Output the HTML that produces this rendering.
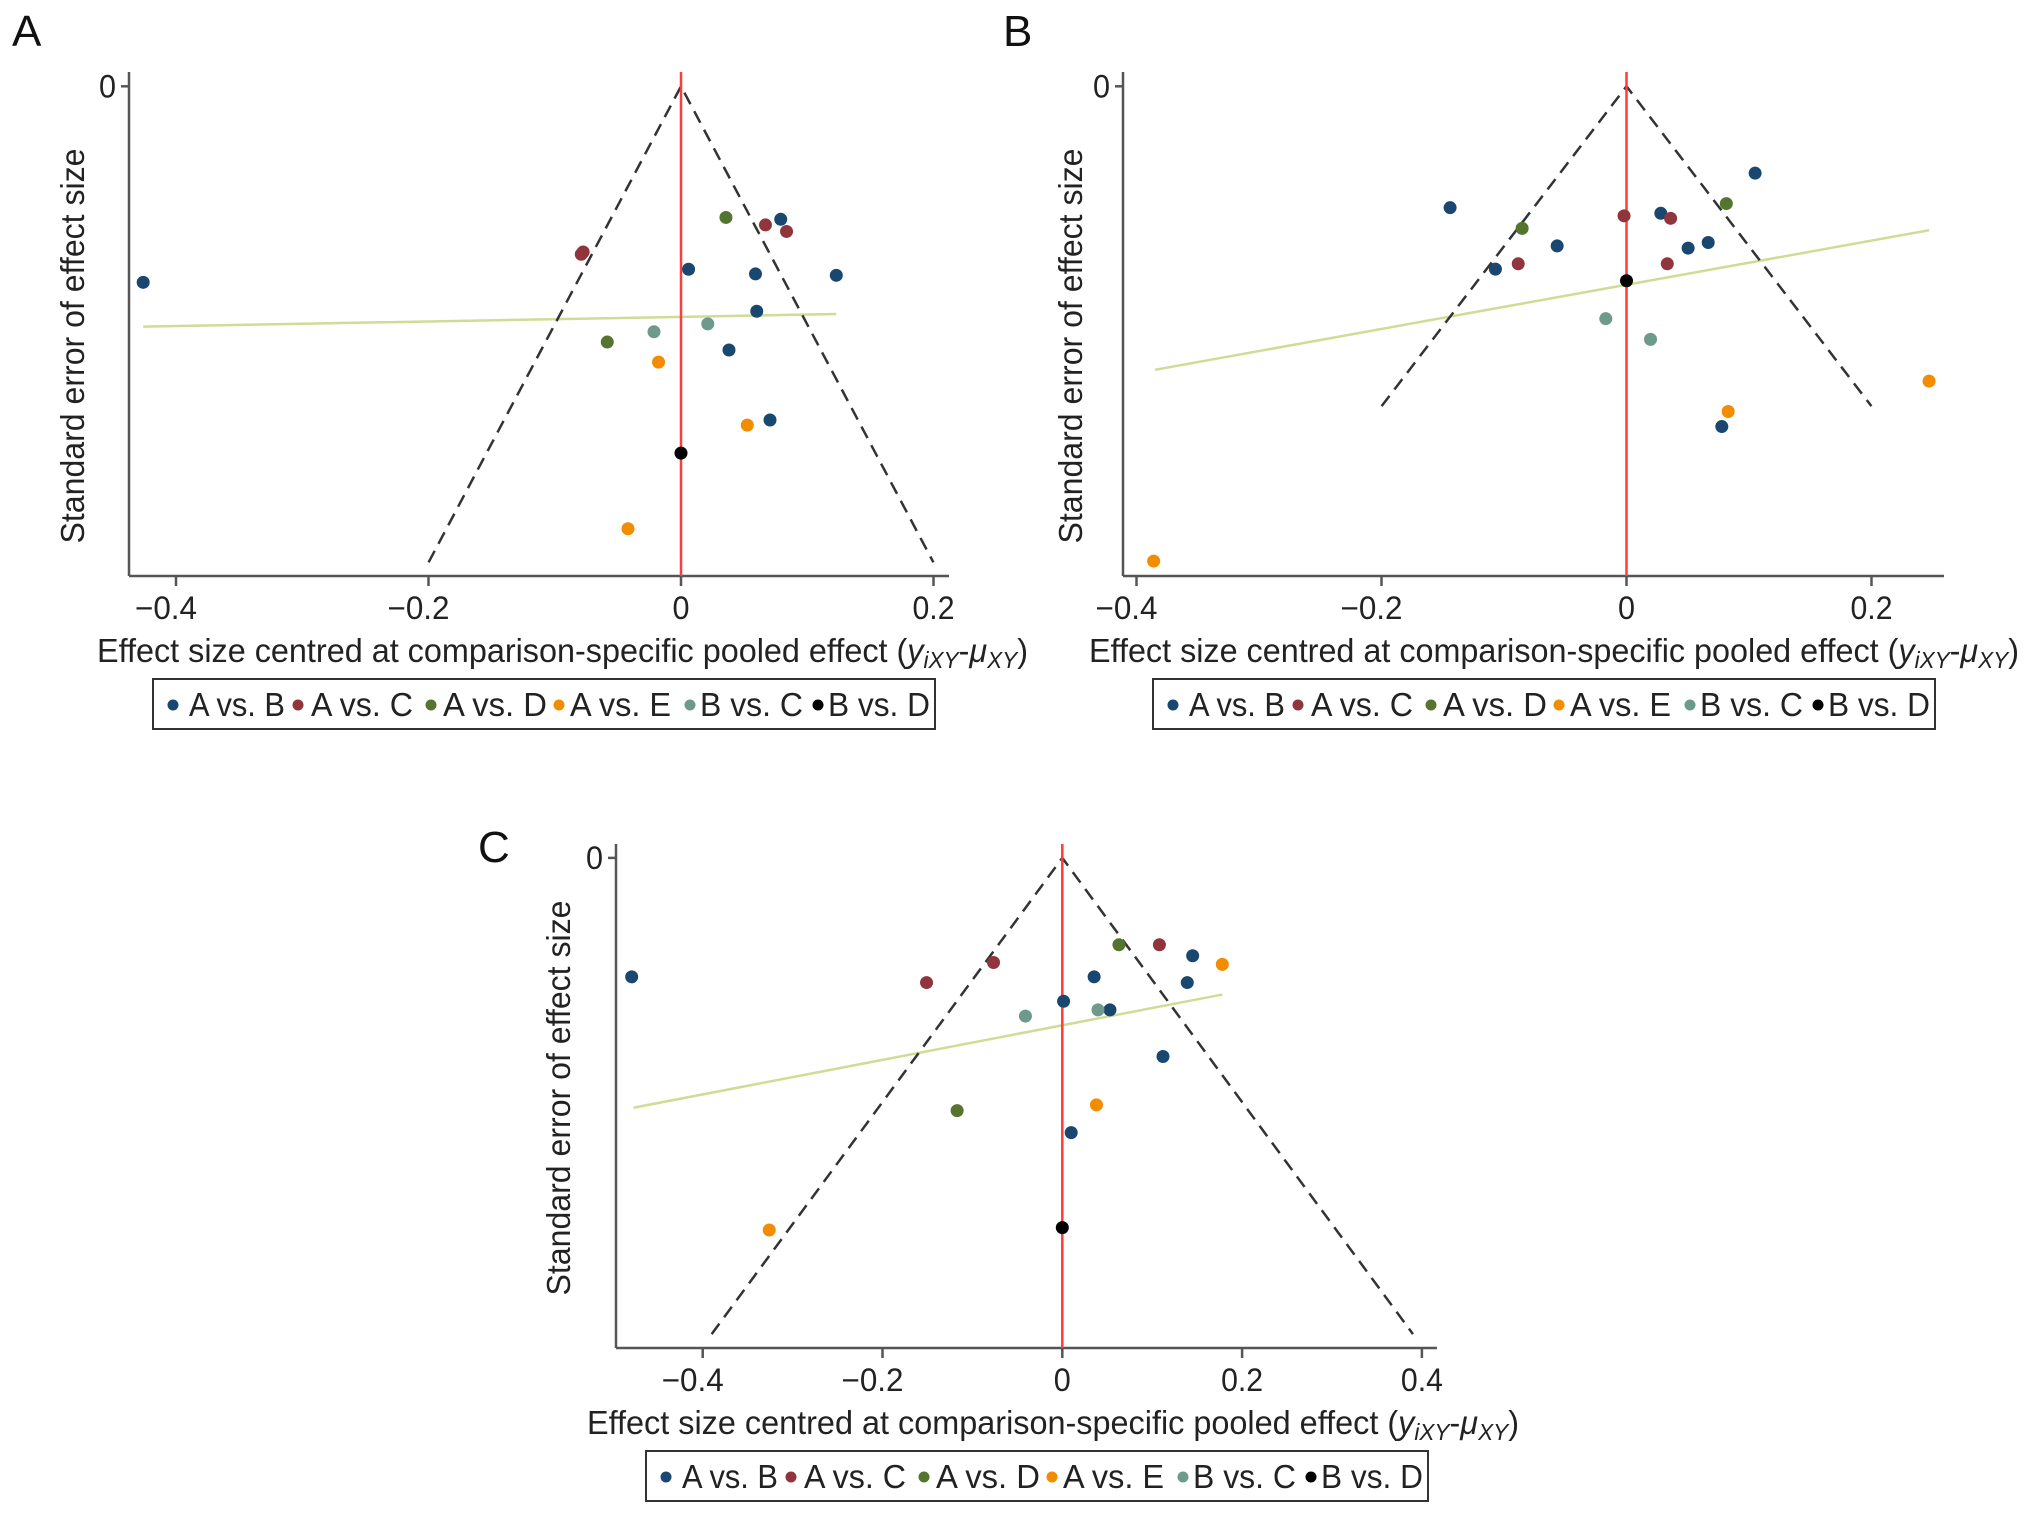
<!DOCTYPE html>
<html><head><meta charset="utf-8"><title>Comparison-adjusted funnel plots</title>
<style>
html,body{margin:0;padding:0;background:#fff;}
svg{display:block;font-family:"Liberation Sans",sans-serif;}
</style></head>
<body>
<svg id="fig" width="2032" height="1529" viewBox="0 0 2032 1529" xmlns="http://www.w3.org/2000/svg"></svg>
<script>
// ---------- data ----------
const seriesNames = ["A vs. B","A vs. C","A vs. D","A vs. E","B vs. C","B vs. D"];
const xTicksA = [-0.4,-0.2,0,0.2];
const xTicksB = [-0.4,-0.2,0,0.2];
const xTicksC = [-0.4,-0.2,0,0.2,0.4];
const funnelSeMaxA = 0.102;
const funnelSeMaxB = 0.102;
const funnelSeMaxC = 0.199;
// panel A
const aAB_x = [-0.426,0.006,0.059,0.123,0.079,0.060,0.038,0.0705];
const aAB_se = [0.042,0.0392,0.0402,0.0405,0.0285,0.0482,0.0565,0.0715];
const aAC_x = [-0.0775,-0.079,0.0669,0.0836];
const aAC_se = [0.0355,0.036,0.0297,0.0311];
const aAD_x = [0.0356,-0.0584];
const aAD_se = [0.0281,0.0548];
const aAE_x = [-0.0178,0.0525,-0.042];
const aAE_se = [0.0591,0.0726,0.0948];
const aBC_x = [-0.0214,0.0212];
const aBC_se = [0.0526,0.0509];
const aBD_x = [0];
const aBD_se = [0.0786];
const aReg_x = [-0.426,0.123];
const aReg_se = [0.0515,0.0488];
// panel B
const bAB_x = [-0.144,0.105,0.028,-0.0566,-0.107,0.0503,0.0667,0.0778];
const bAB_se = [0.0387,0.0277,0.0405,0.0509,0.0583,0.0516,0.0498,0.1085];
const bAC_x = [-0.002,0.036,-0.0884,0.0333];
const bAC_se = [0.0413,0.0421,0.0566,0.0566];
const bAD_x = [0.0815,-0.0852];
const bAD_se = [0.0374,0.0453];
const bAE_x = [0.247,0.083,-0.386];
const bAE_se = [0.094,0.1037,0.1514];
const bBC_x = [-0.0169,0.0196];
const bBC_se = [0.0741,0.0807];
const bBD_x = [0];
const bBD_se = [0.062];
const bReg_x = [-0.385,0.247];
const bReg_se = [0.0904,0.0459];
// panel C
const cAB_x = [-0.479,0.0354,0.145,0.139,0.0014,0.053,0.112,0.0099];
const cAB_se = [0.0497,0.0497,0.0409,0.0521,0.0599,0.0635,0.083,0.1148];
const cAC_x = [-0.0765,-0.151,0.108];
const cAC_se = [0.0437,0.0521,0.0363];
const cAD_x = [0.063,-0.117];
const cAD_se = [0.0363,0.1056];
const cAE_x = [0.178,0.038,-0.326];
const cAE_se = [0.0445,0.1032,0.1555];
const cBC_x = [-0.041,0.0397];
const cBC_se = [0.0661,0.0635];
const cBD_x = [0];
const cBD_se = [0.1545];
const cReg_x = [-0.477,0.178];
const cReg_se = [0.1044,0.0571];

// ---------- drawing ----------
const NS = "http://www.w3.org/2000/svg";
const svg = document.getElementById("fig");
const colors = ["#1a476f","#90353b","#55752f","#f28c00","#6e9a8e","#000000"];
function mk(tag, attrs, parent){
  const e = document.createElementNS(NS, tag);
  for (const k in attrs) e.setAttribute(k, attrs[k]);
  (parent||svg).appendChild(e);
  return e;
}
function fmt(v){ return v===0 ? "0" : (v<0 ? "\u2212" : "") + String(Math.abs(v)); }

function panel(cfg){
  const g = mk("g", {});
  
  
  const X = v => cfg.x0 + cfg.xs * v;
  const Y = s => cfg.y0 + cfg.ys * s;
  const lab = mk("text", {x: cfg.letterX, y: cfg.letterY, "font-size": 44, fill: "#111"}, g);
  lab.textContent = cfg.id.toUpperCase();
  
  
  const ya = mk("line", {x1: cfg.left, y1: cfg.top, x2: cfg.left, y2: cfg.bottom, stroke: "#555", "stroke-width": 2.5}, g);
  
  
  const xa = mk("line", {x1: cfg.left, y1: cfg.bottom, x2: cfg.right, y2: cfg.bottom, stroke: "#555", "stroke-width": 2.5}, g);
  
  
  mk("line", {x1: cfg.left-8, y1: Y(0), x2: cfg.left, y2: Y(0), stroke: "#555", "stroke-width": 2.5}, g);
  const y0l = mk("text", {x: cfg.left-13, y: Y(0)+11, "font-size": 32, "text-anchor": "end", fill: "#222", textLength: 17, lengthAdjust: "spacingAndGlyphs"}, g);
  y0l.textContent = "0";
  
  
  cfg.ticks.forEach(t => {
    mk("line", {x1: X(t), y1: cfg.bottom, x2: X(t), y2: cfg.bottom+10, stroke: "#555", "stroke-width": 2.5}, g);
    const digits = String(Math.abs(t));
    const w = digits.length===1 ? 17 : 42;
    const full = t<0 ? w + 20 : w;
    const tl = mk("text", {x: X(t) + w/2, y: cfg.bottom + 43, "font-size": 32, "text-anchor": "end", fill: "#222", textLength: full, lengthAdjust: "spacingAndGlyphs"}, g);
    tl.textContent = fmt(t);
    
    
  });
  const xt = mk("text", {x: cfg.titleX, y: cfg.bottom + 86, "font-size": 33, fill: "#222", textLength: cfg.titleW, lengthAdjust: "spacingAndGlyphs"}, g);
  xt.innerHTML = 'Effect size centred at comparison-specific pooled effect (<tspan font-style="italic">y</tspan><tspan font-style="italic" font-size="23" dy="6">iXY</tspan><tspan dy="-6">-</tspan><tspan font-style="italic">\u03bc</tspan><tspan font-style="italic" font-size="23" dy="6">XY</tspan><tspan dy="-6">)</tspan>';
  
  
  const yt = mk("text", {x: 0, y: 0, "font-size": 33, fill: "#222", "text-anchor": "middle", textLength: 395, lengthAdjust: "spacingAndGlyphs", transform: `translate(${cfg.yTitleX},${cfg.yTitleY}) rotate(-90)`}, g);
  yt.textContent = "Standard error of effect size";
  
  
  const rl = mk("line", {x1: X(cfg.reg[0][0]), y1: Y(cfg.reg[1][0]), x2: X(cfg.reg[0][1]), y2: Y(cfg.reg[1][1]), stroke: "#cfdc96", "stroke-width": 2.5}, g);
  
  
  const fm = cfg.seMax;
  const fl = mk("polyline", {points: `${X(-1.96*fm)},${Y(fm)} ${X(0)},${Y(0)} ${X(1.96*fm)},${Y(fm)}`, fill: "none", stroke: "#333", "stroke-width": 2.5, "stroke-dasharray": "13 8"}, g);
  
  
  const nl = mk("line", {x1: X(0), y1: cfg.top, x2: X(0), y2: cfg.bottom, stroke: "#ff3b3b", "stroke-width": 2.5}, g);
  
  
  cfg.series.forEach((s, i) => {
    s[0].forEach((xv, j) => {
      const c = mk("circle", {cx: X(xv), cy: Y(s[1][j]), r: 6.5, fill: colors[i]}, g);
      
      
    });
  });
  const lg = mk("g", {}, g);
  
  
  mk("rect", {x: cfg.legX, y: cfg.legY, width: 782, height: 50, fill: "#fff", stroke: "#333", "stroke-width": 2}, lg);
  const mOff = [20,145,278,406,537,665];
  const tOff = [36,158,290,417,547,675];
  const tLen = [96,102,104,101,103,102];
  seriesNames.forEach((n, i) => {
    const m = mk("circle", {cx: cfg.legX + mOff[i], cy: cfg.legY + 26, r: 5.5, fill: colors[i]}, lg);
    
    
    const t = mk("text", {x: cfg.legX + tOff[i], y: cfg.legY + 37, "font-size": 33, fill: "#222", textLength: tLen[i], lengthAdjust: "spacingAndGlyphs"}, lg);
    t.textContent = n;
    
    
  });
}

panel({id:"a", letterX:12, letterY:46, x0:681, xs:1262.5, y0:86.3, ys:4667, left:129, right:949, top:72, bottom:576,
  ticks:xTicksA, seMax:funnelSeMaxA, titleX:97, titleW:931, yTitleX:84, yTitleY:346,
  reg:[aReg_x,aReg_se], legX:153, legY:679,
  series:[[aAB_x,aAB_se],[aAC_x,aAC_se],[aAD_x,aAD_se],[aAE_x,aAE_se],[aBC_x,aBC_se],[aBD_x,aBD_se]]});
panel({id:"b", letterX:1003, letterY:46, x0:1626.5, xs:1225, y0:86.3, ys:3136, left:1123, right:1944, top:72, bottom:576,
  ticks:xTicksB, seMax:funnelSeMaxB, titleX:1089, titleW:930, yTitleX:1082, yTitleY:346,
  reg:[bReg_x,bReg_se], legX:1153, legY:679,
  series:[[bAB_x,bAB_se],[bAC_x,bAC_se],[bAD_x,bAD_se],[bAE_x,bAE_se],[bBC_x,bBC_se],[bBD_x,bBD_se]]});
panel({id:"c", letterX:478, letterY:862, x0:1062.3, xs:899, y0:857.9, ys:2393, left:616, right:1437, top:844, bottom:1348,
  ticks:xTicksC, seMax:funnelSeMaxC, titleX:587, titleW:932, yTitleX:570, yTitleY:1098,
  reg:[cReg_x,cReg_se], legX:646, legY:1451,
  series:[[cAB_x,cAB_se],[cAC_x,cAC_se],[cAD_x,cAD_se],[cAE_x,cAE_se],[cBC_x,cBC_se],[cBD_x,cBD_se]]});
</script>
</body></html>
